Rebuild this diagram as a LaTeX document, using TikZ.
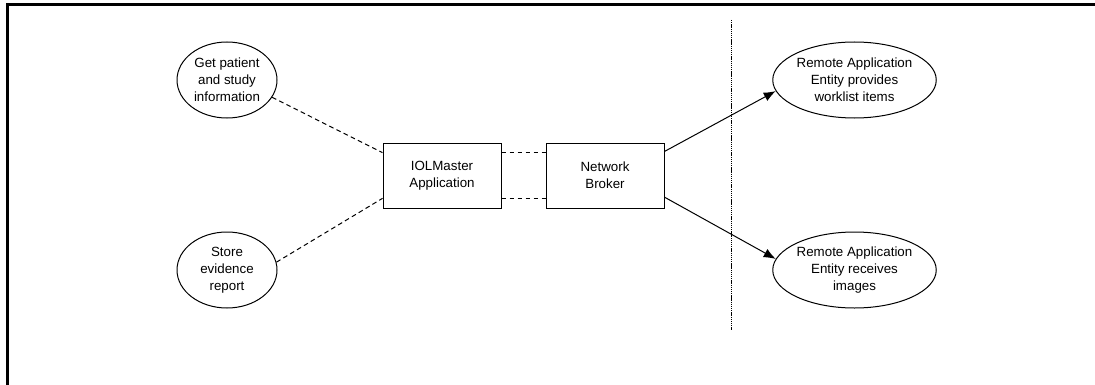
\documentclass[tikz,border=0pt]{standalone}
\usepackage{fontspec}
\setmainfont{Liberation Sans}
\usepackage{tikz}
\usetikzlibrary{calc}
\usetikzlibrary{positioning}
\usetikzlibrary{shapes.geometric}
\usetikzlibrary{arrows.meta}

\begin{document}
\begin{tikzpicture}[x=0.75pt, y=-0.75pt, line width=0.75pt,
    font=\fontsize{10}{12.75}\selectfont]

                \def\d{33pt}

                % Styles for the use cases and the two boxes
                \tikzset{usecase/.style={draw, ellipse, inner sep=0pt,
                             align=center, minimum height=57pt},
                         sysbox/.style={draw, rectangle, align=center,
                             minimum width=88.5pt, minimum height=48.75pt},
                         link/.style={dash pattern=on 3.5pt off 2.5pt}}

                \useasboundingbox (0, 0) rectangle (1095, 385);

                % Frame, open to the right and the bottom
                \draw[line width=2.2pt] (7.5, 385) -- (7.5, 4.5) -- (1095, 4.5);

                % Boundary of the system
                \draw[dash pattern=on 1pt off 0.6pt] (731, 20) -- (731, 330);

                \begin{scope}
                    \node[usecase, minimum width=75pt] (get) at (227, 80)
                    {Get patient\\and study\\information};
                    \node[usecase, minimum width=75pt] (store) at (227, 270)
                    {Store\\evidence\\report};
                    \node[sysbox] (app) at (442, 175.5)
                    {IOLMaster\\Application};
                    \node[sysbox, right=\d of app] (broker)
                    {Network\\Broker};
                    \node[usecase, minimum width=122pt] (wl) at (854.5, 80)
                    {Remote Application\\Entity provides\\worklist items};
                    \node[usecase, minimum width=122pt] (img) at (854.5, 270)
                    {Remote Application\\Entity receives\\images};
                \end{scope}

                \begin{scope}[link]
                    \draw (get.-21) -- (app.159);
                    \draw (store.9) -- (app.201);
                    \draw (app.21) -- (broker.159);
                    \draw (app.-21) -- (broker.201);
                \end{scope}

                \begin{scope}[-{Latex[length=9pt, width=7pt]}]
                    \draw (broker.22) -- (wl.188);
                    \draw (broker.-20) -- (img.172);
                \end{scope}

                \end{tikzpicture}
\end{document}
